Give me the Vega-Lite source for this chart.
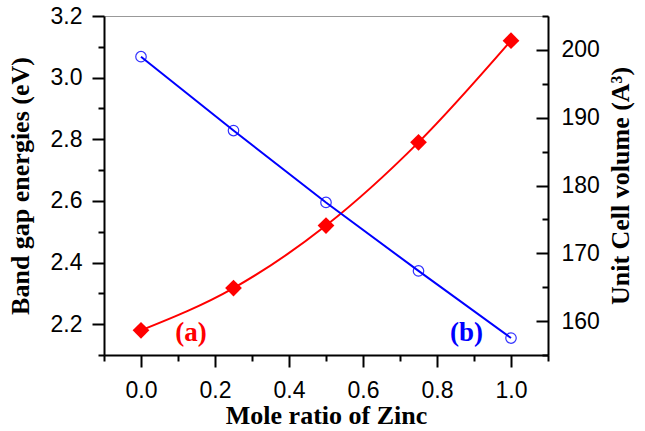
{
  "$schema": "https://vega.github.io/schema/vega-lite/v6.json",
  "width": 444,
  "height": 339,
  "autosize": {"type": "none"},
  "padding": {"left": 104, "top": 16, "right": 97, "bottom": 76},
  "background": "white",
  "config": {
    "view": {"stroke": "#999999", "strokeWidth": 1},
    "axis": {
      "grid": false,
      "domainColor": "black",
      "domainWidth": 2,
      "tickColor": "black",
      "tickWidth": 2,
      "labelFont": "Liberation Sans",
      "labelFontSize": 23,
      "labelColor": "black",
      "titleFont": "Liberation Serif",
      "titleFontSize": 26,
      "titleFontWeight": "bold",
      "titleColor": "black"
    }
  },
  "datasets": {
    "band": [
      {"x": 0, "y": 2.18},
      {"x": 0.25, "y": 2.317},
      {"x": 0.5, "y": 2.52},
      {"x": 0.75, "y": 2.79},
      {"x": 1, "y": 3.12}
    ],
    "vol": [
      {"x": 0, "v": 199.0},
      {"x": 0.25, "v": 188.1},
      {"x": 0.5, "v": 177.5},
      {"x": 0.75, "v": 167.4},
      {"x": 1, "v": 157.5}
    ],
    "labels": [
      {"x": 0.135, "y": 2.17, "label": "(a)", "c": "a"},
      {"x": 0.88, "y": 2.17, "label": "(b)", "c": "b"}
    ]
  },
  "encoding": {
    "x": {
      "field": "x",
      "type": "quantitative",
      "scale": {"domain": [-0.1, 1.1], "nice": false, "zero": false},
      "axis": {
        "title": "Mole ratio of Zinc",
        "values": [-0.1, 0, 0.1, 0.2, 0.3, 0.4, 0.5, 0.6, 0.7, 0.8, 0.9, 1.0, 1.1],
        "tickCount": 100,
        "labelExpr": "abs(round(datum.value*10)) % 2 == 0 ? format(datum.value, '.1f') : ''",
        "tickSize": {"condition": {"test": "abs(round(datum.value*10)) % 2 == 0", "value": 12}, "value": 6},
        "labelPadding": 12,
        "titlePadding": 0
      }
    }
  },
  "layer": [
    {
      "layer": [
        {
          "data": {"name": "band"},
          "mark": {"type": "line", "color": "#FF0000", "strokeWidth": 2, "interpolate": "monotone"},
          "encoding": {
            "y": {
              "field": "y",
              "type": "quantitative",
              "scale": {"domain": [2.1, 3.2], "nice": false, "zero": false},
              "axis": {
                "title": "Band gap energies (eV)",
                "orient": "left",
                "values": [2.1, 2.2, 2.3, 2.4, 2.5, 2.6, 2.7, 2.8, 2.9, 3.0, 3.1, 3.2],
                "tickCount": 100,
                "labelExpr": "abs(round(datum.value*10)) % 2 == 0 ? format(datum.value, '.1f') : ''",
                "tickSize": {"condition": {"test": "abs(round(datum.value*10)) % 2 == 0", "value": 12}, "value": 6},
                "labelPadding": 10,
                "titlePadding": 17
              }
            }
          }
        },
        {
          "data": {"name": "band"},
          "mark": {"type": "point", "shape": "diamond", "filled": true, "color": "#FF0000", "size": 280, "opacity": 1},
          "encoding": {"y": {"field": "y", "type": "quantitative"}}
        },
        {
          "data": {"name": "labels"},
          "mark": {"type": "text", "font": "Liberation Serif", "fontSize": 27, "fontWeight": "bold", "baseline": "middle", "align": "center"},
          "encoding": {
            "y": {"field": "y", "type": "quantitative"},
            "text": {"field": "label"},
            "color": {"field": "c", "type": "nominal", "scale": {"domain": ["a", "b"], "range": ["#FF0000", "#0000FF"]}, "legend": null}
          }
        }
      ]
    },
    {
      "layer": [
        {
          "data": {"name": "vol"},
          "mark": {"type": "line", "color": "#0000FF", "strokeWidth": 2},
          "encoding": {
            "y": {
              "field": "v",
              "type": "quantitative",
              "scale": {"domain": [155, 205], "nice": false, "zero": false},
              "axis": {
                "title": "Unit Cell volume (A³)",
                "orient": "right",
                "titleAngle": 270,
                "values": [155, 160, 165, 170, 175, 180, 185, 190, 195, 200, 205],
                "tickCount": 100,
                "labelExpr": "round(datum.value) % 10 == 0 ? format(datum.value, 'd') : ''",
                "tickSize": {"condition": {"test": "round(datum.value) % 10 == 0", "value": -12}, "value": -6},
                "labelPadding": 25,
                "titlePadding": 34
              }
            }
          }
        },
        {
          "data": {"name": "vol"},
          "mark": {"type": "point", "shape": "circle", "filled": false, "color": "#0000FF", "size": 110, "strokeWidth": 1.2, "opacity": 0.8},
          "encoding": {"y": {"field": "v", "type": "quantitative"}}
        }
      ]
    }
  ],
  "resolve": {"scale": {"y": "independent", "color": "independent"}}
}
